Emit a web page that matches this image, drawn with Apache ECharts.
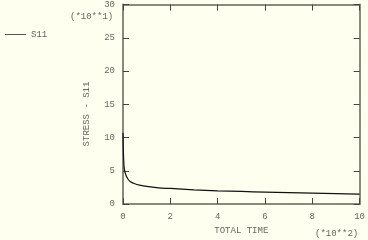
<!DOCTYPE html>
<html><head><meta charset="utf-8">
<script src="https://cdn.jsdelivr.net/npm/echarts@6/dist/echarts.min.js"></script>
<style>html,body{margin:0;padding:0;background:#FFFFF0;}#c{width:368px;height:240px;}</style>
</head><body><div id="c"></div>
<script>
var seriesName = 'S11';
var timeValues = [0, 0.02, 0.05, 0.1, 0.2, 0.3, 0.5, 0.7, 1, 1.5, 2, 3, 4, 5, 6, 7, 8, 9, 10];
var stressValues = [10.7, 7.5, 5.5, 4.6, 3.8, 3.4, 3.05, 2.85, 2.65, 2.45, 2.35, 2.15, 2.0, 1.9, 1.8, 1.72, 1.64, 1.57, 1.5];
var xTitle = 'TOTAL TIME';
var yTitle = 'STRESS - S11';
var xScale = '(*10**2)';
var yScale = '(*10**1)';

var font = 'Liberation Mono';
var txt = '#66665e';
var axisCol = '#8a8a7c';
var chart = echarts.init(document.getElementById('c'));
var pts = timeValues.map(function(t, i){ return [t, stressValues[i]]; });
function mk(extra){
  return Object.assign({
    axisLine:{show:true,onZero:false,lineStyle:{color:axisCol,width:2}},
    axisTick:{show:true,inside:true,length:6,lineStyle:{color:'#444',width:1}},
    splitLine:{show:false}}, extra);
}
chart.setOption({
  backgroundColor:'#FFFFF0',
  animation:false,
  textStyle:{fontFamily:font},
  legend:{left:0,top:25,icon:'rect',itemWidth:21,itemHeight:1,itemGap:6,
    textStyle:{fontFamily:font,fontSize:9,color:txt},data:[seriesName]},
  grid:{left:123,right:5,top:4,bottom:28},
  xAxis:[
    mk({type:'value',min:0,max:10,interval:2,position:'bottom',
      axisLabel:{fontFamily:font,fontSize:9,color:txt,margin:8},
      name:xTitle,nameLocation:'middle',nameGap:18,
      nameTextStyle:{fontFamily:font,fontSize:9,color:txt}}),
    mk({type:'value',min:0,max:10,interval:2,position:'top',
      axisLabel:{show:false}})
  ],
  yAxis:[
    mk({type:'value',min:0,max:30,interval:5,position:'left',
      axisLabel:{fontFamily:font,fontSize:9,color:txt,margin:8}}),
    mk({type:'value',min:0,max:30,interval:5,position:'right',
      axisLabel:{show:false}})
  ],
  graphic:[
    {type:'text',left:315,top:229,style:{text:xScale,font:'9px "Liberation Mono"',fill:txt}},
    {type:'text',left:70,top:12,style:{text:yScale,font:'9px "Liberation Mono"',fill:txt}},
    {type:'text',x:87,y:114,rotation:Math.PI/2,
      style:{text:yTitle,font:'9px "Liberation Mono"',fill:txt,align:'center',verticalAlign:'middle'}}
  ],
  series:[{name:seriesName,type:'line',data:pts,smooth:0.3,showSymbol:false,
    lineStyle:{color:'#111',width:1.2},itemStyle:{color:'#555'},xAxisIndex:0,yAxisIndex:0}]
});
</script></body></html>
